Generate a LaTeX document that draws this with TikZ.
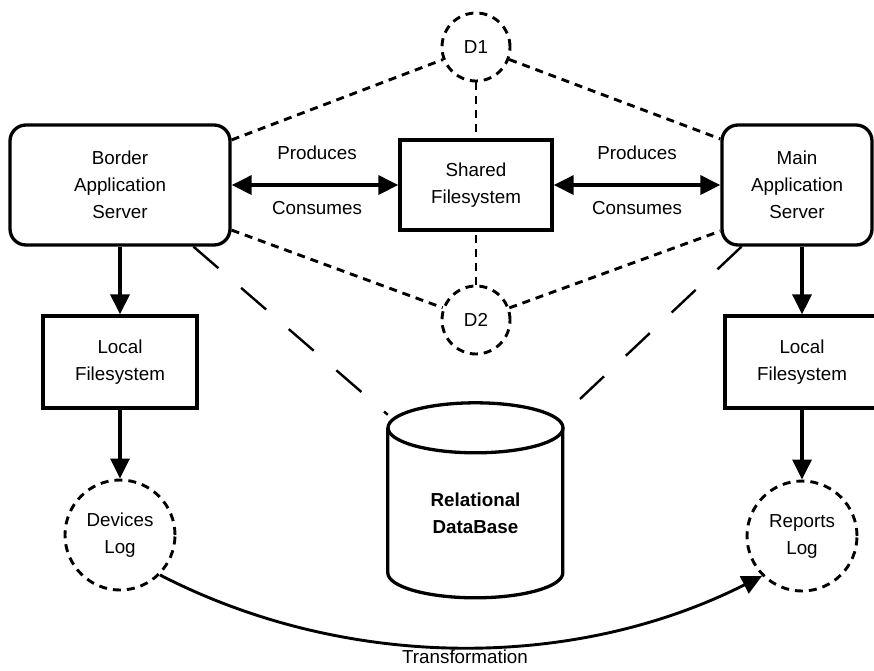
\documentclass[tikz,border=0pt]{standalone}
\usepackage{fontspec}
\setmainfont{Liberation Sans}
\usetikzlibrary{arrows.meta}

\begin{document}
\begin{tikzpicture}[x=1pt,y=-1pt,
  every node/.style={font=\fontsize{18.8pt}{27pt}\selectfont, align=center},
  server/.style={draw, line width=3.3pt, rounded corners=16pt, minimum width=220pt, minimum height=120pt},
  fsbox/.style={draw, line width=3.3pt, minimum width=154pt, minimum height=92pt},
  dcirc/.style={draw, circle, line width=2.9pt, dash pattern=on 8pt off 6pt, minimum size=68pt, inner sep=0pt},
  logcirc/.style={dcirc, minimum size=110pt},
  flow/.style={line width=3.3pt, -{Triangle[length=20pt,width=19pt]}},
  dlink/.style={line width=2.9pt, dash pattern=on 8pt off 6pt},
  dblink/.style={line width=2.4pt, dash pattern=on 33pt off 30pt}]
\useasboundingbox (0,0) rectangle (874,670);
%-------->servers and filesystems<--------------
\node[server] (border) at (120,185) {Border\\Application\\Server};
\node[server, minimum width=150pt] (main) at (797,185) {Main\\Application\\Server};
\node[fsbox, minimum width=152pt, minimum height=90pt] (shared) at (476,185) {Shared\\Filesystem};
\node[fsbox] (localB) at (120,362) {Local\\Filesystem};
\node[fsbox] (localM) at (802,362) {Local\\Filesystem};
%-------->dashed circles<--------------
\node[dcirc] (d1) at (476,47) {D1};
\node[dcirc] (d2) at (476,320) {D2};
\node[logcirc] (devlog) at (120,535) {Devices\\Log};
\node[logcirc] (replog) at (802,536) {Reports\\Log};
%-------->database<--------------
\node[minimum width=175pt, minimum height=195pt] (db) at (475.5,500.5) {};
\node[font=\fontsize{18.8pt}{27pt}\selectfont\bfseries] (dbtext) at (475.5,513) {Relational\\DataBase};
\draw[line width=3.3pt] (db.north west) ++(0,25) -- ++(0,145) arc[start angle=180,end angle=360,x radius=87.5pt,y radius=25pt] -- ++(0,-145);
\draw[line width=3.3pt] ([yshift=-25pt]db.north) ellipse [x radius=87.5pt, y radius=25pt];
%-------->labels<--------------
\node (prodB) at (317,153) {Produces};
\node (consB) at (317,208) {Consumes};
\node (prodM) at (637,153) {Produces};
\node (consM) at (637,208) {Consumes};
\node (trans) at (465,657) {Transformation};
%------------->arrows<------------------
\draw[line width=3.3pt, {Triangle[length=20pt,width=19pt]}-{Triangle[length=20pt,width=19pt]}] (border) -- (shared);
\draw[line width=3.3pt, {Triangle[length=20pt,width=19pt]}-{Triangle[length=20pt,width=19pt]}] (shared) -- (main);
\draw[flow] (border) -- (localB);
\draw[flow] (localB) -- (devlog);
\draw[flow] (main.south -| localM) -- (localM);
\draw[flow] (localM) -- (replog);
\draw[flow, line width=2.9pt] (devlog.-45) .. controls (346,671) and (574,671) .. (replog.225);
%----------------> dashed links<------------------
\draw[dlink] (border.22) -- (d1);
\draw[dlink] (d1) -- (shared);
\draw[dlink] (d1) -- (main.149);
\draw[dlink] (border.-22) -- (d2);
\draw[dlink] (d2) -- (shared);
\draw[dlink] (d2) -- (main.211);
\draw[dblink] (border.-40.6) -- ([yshift=-12pt]db.north west);
\draw[dblink] (main.228) -- ([yshift=-12pt]db.north east);
\end{tikzpicture}
\end{document}
